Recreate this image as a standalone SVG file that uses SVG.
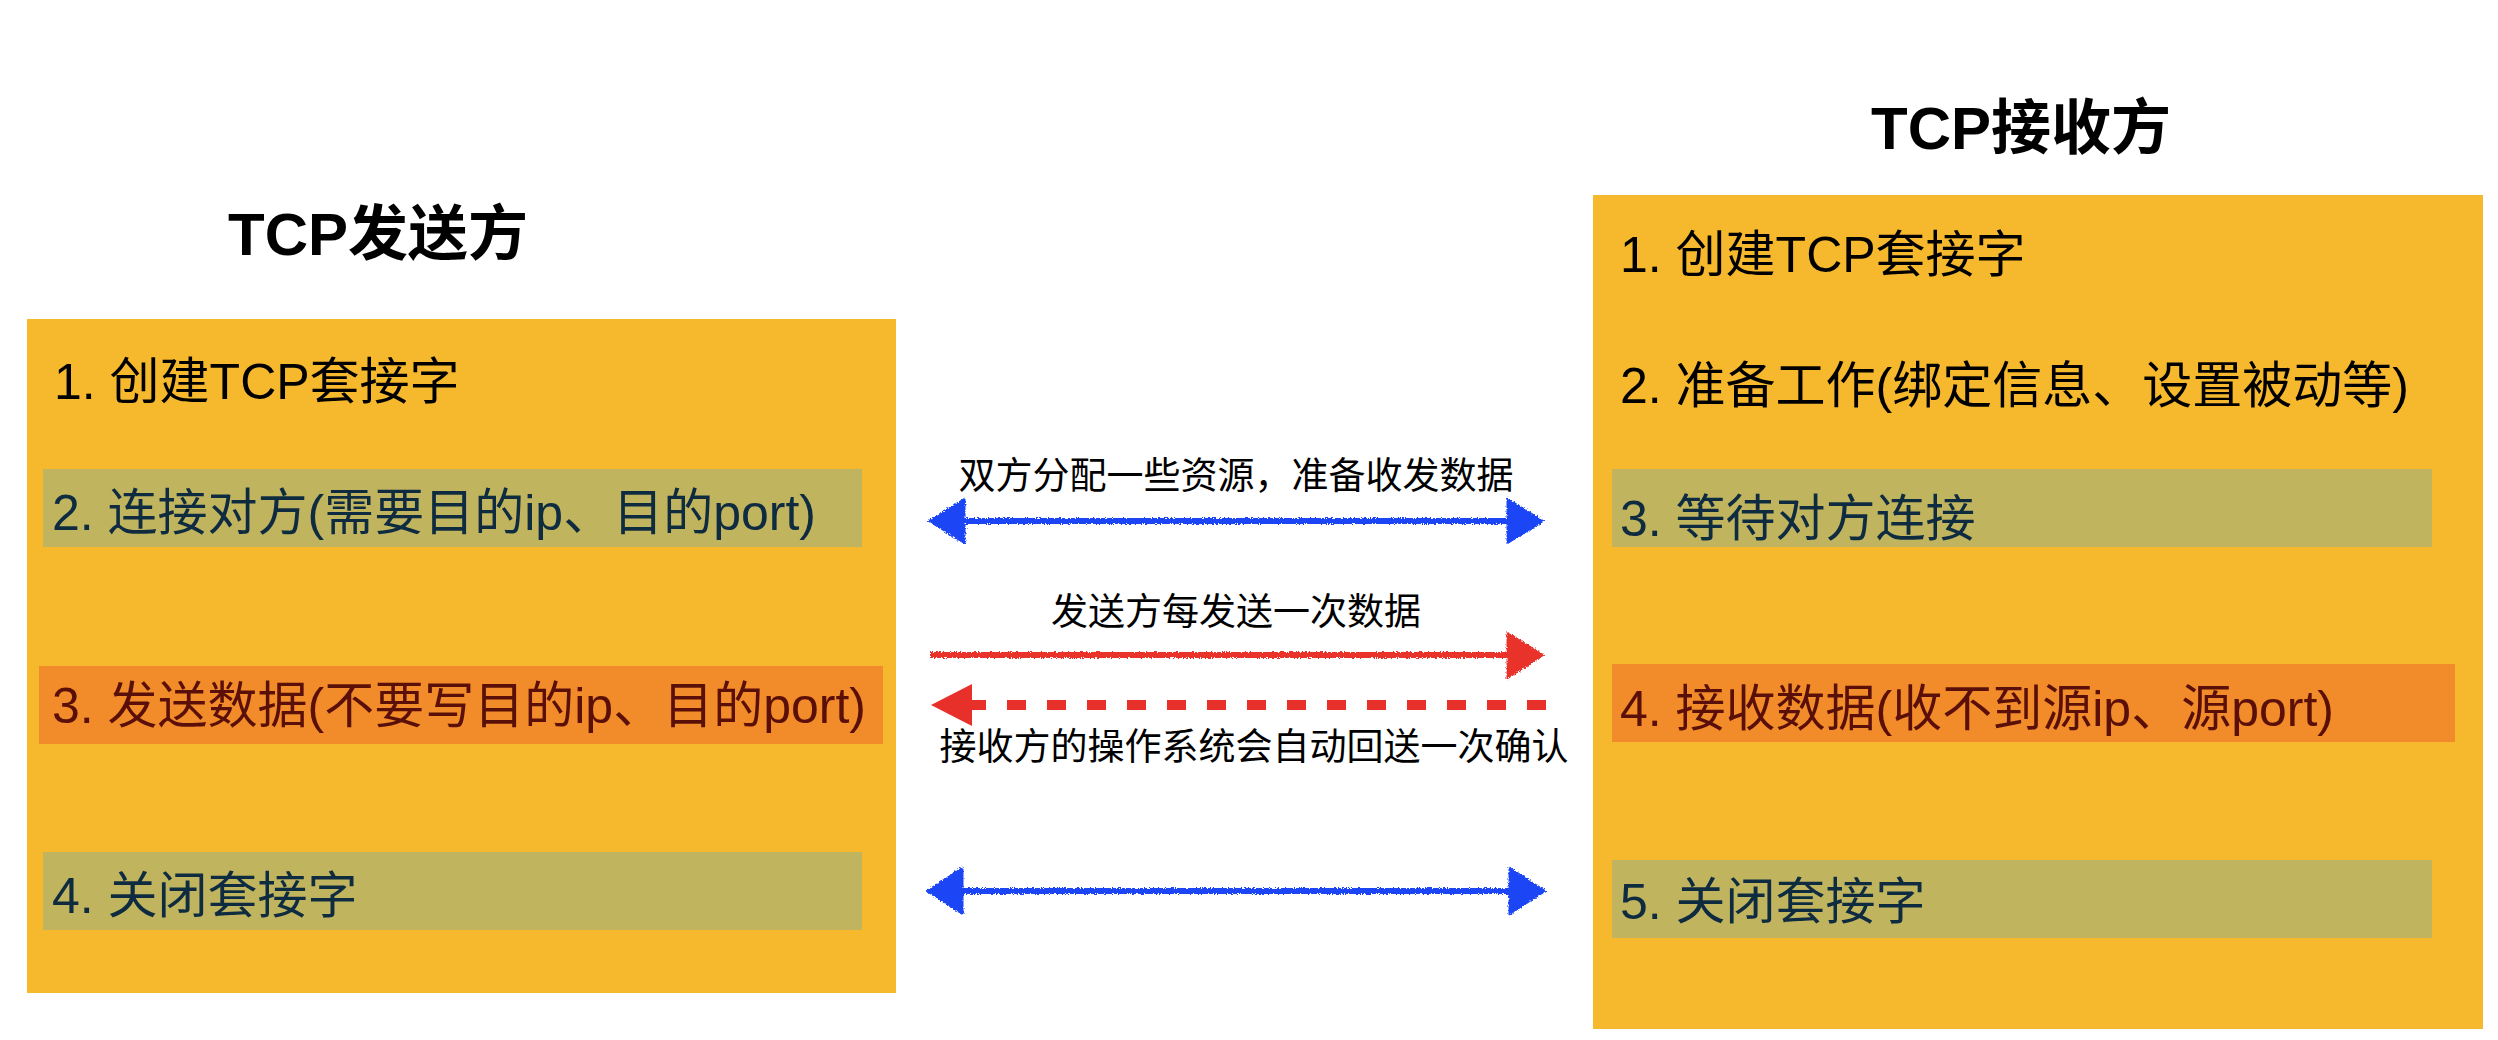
<svg xmlns="http://www.w3.org/2000/svg" width="2498" height="1040" viewBox="0 0 2498 1040">
<style>
.box{fill:#F6B82C}
.olive{fill:#C1B45F}
.orange{fill:#F28B2A}
.title{font-family:"Liberation Sans","Noto Sans CJK SC",sans-serif;font-weight:bold;font-size:60px;fill:#000}
.item{font-family:"Liberation Sans","Noto Sans CJK SC",sans-serif;font-size:50px}
.k{fill:#000}
.navy{fill:#0E2B40}
.maroon{fill:#5A0F08}
.lbl{font-family:"Noto Sans CJK SC",sans-serif;font-size:37px;fill:#000;text-anchor:middle}
.blue{stroke:#1A44F6;fill:#1A44F6}
.red{stroke:#E8302A;fill:#E8302A}
.shaft{stroke-width:6;fill:none}
</style>
<defs>
<filter id="rough" x="-5%" y="-60%" width="110%" height="220%">
<feTurbulence type="fractalNoise" baseFrequency="0.7" numOctaves="2" seed="3" result="n"/>
<feDisplacementMap in="SourceGraphic" in2="n" scale="4" xChannelSelector="R" yChannelSelector="G"/>
</filter>
</defs>
<rect width="2498" height="1040" fill="#fff"/>
<g id="sender">
<text class="title" x="228" y="255">TCP发送方</text>
<rect class="box" x="27" y="319" width="869" height="674"/>
<text class="item k" x="54" y="399">1. 创建TCP套接字</text>
<rect class="olive" x="43" y="469" width="819" height="78"/>
<text class="item navy" x="52" y="530">2. 连接对方(需要目的ip、目的port)</text>
<rect class="orange" x="39" y="666" width="844" height="78"/>
<text class="item maroon" x="52" y="723">3. 发送数据(不要写目的ip、目的port)</text>
<rect class="olive" x="43" y="852" width="819" height="78"/>
<text class="item navy" x="52" y="913">4. 关闭套接字</text>
</g>
<g id="receiver">
<text class="title" x="1871" y="149">TCP接收方</text>
<rect class="box" x="1593" y="195" width="890" height="834"/>
<text class="item k" x="1620" y="272">1. 创建TCP套接字</text>
<text class="item k" x="1620" y="403">2. 准备工作(绑定信息、设置被动等)</text>
<rect class="olive" x="1612" y="469" width="820" height="78"/>
<text class="item navy" x="1620" y="536">3. 等待对方连接</text>
<rect class="orange" x="1612" y="664" width="843" height="78"/>
<text class="item maroon" x="1620" y="726">4. 接收数据(收不到源ip、源port)</text>
<rect class="olive" x="1612" y="860" width="820" height="78"/>
<text class="item navy" x="1620" y="919">5. 关闭套接字</text>
</g>
<g id="connectors">
<g id="c1" class="blue" filter="url(#rough)">
<line class="shaft" x1="960" y1="521" x2="1512" y2="521"/>
<polygon points="928,521 965,498 965,544"/>
<polygon points="1544,521 1507,498 1507,544"/>
</g>
<text class="lbl" x="1236" y="489">双方分配一些资源，准备收发数据</text>
<g id="c2" class="red" filter="url(#rough)">
<line class="shaft" x1="930" y1="655" x2="1512" y2="655"/>
<polygon points="1544,655 1507,632 1507,679"/>
</g>
<text class="lbl" x="1236" y="625">发送方每发送一次数据</text>
<g id="c3" class="red">
<line x1="1546" y1="705" x2="960" y2="705" stroke-width="10" stroke-dasharray="19 21" fill="none"/>
<polygon points="931,705 972,684 972,726" stroke="none"/>
</g>
<text class="lbl" x="1254" y="760">接收方的操作系统会自动回送一次确认</text>
<g id="c4" class="blue" filter="url(#rough)">
<line class="shaft" x1="958" y1="891" x2="1514" y2="891"/>
<polygon points="926,891 963,867 963,915"/>
<polygon points="1546,891 1509,867 1509,915"/>
</g>
</g>
</svg>
